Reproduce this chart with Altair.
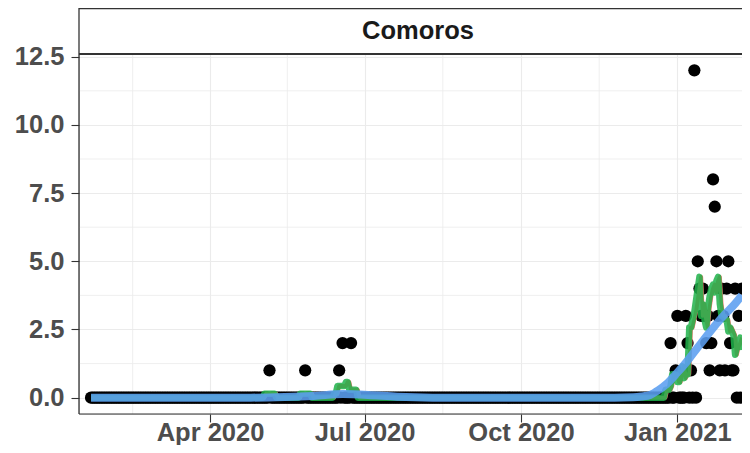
import altair as alt
import pandas as pd

# ---------------- data ----------------
strip_title = "Comoros"
first_day = "2020-01-22"
last_day = "2021-02-08"
# days with a non-zero count (every other day in the range is 0)
nonzero_dates = [
    "2020-05-06", "2020-05-27", "2020-06-16", "2020-06-18", "2020-06-23",
    "2020-12-28", "2020-12-31", "2021-01-01", "2021-01-06", "2021-01-07",
    "2021-01-09", "2021-01-11", "2021-01-13", "2021-01-14", "2021-01-15",
    "2021-01-16", "2021-01-17", "2021-01-18", "2021-01-19", "2021-01-20",
    "2021-01-21", "2021-01-22", "2021-01-23", "2021-01-24", "2021-01-25",
    "2021-01-26", "2021-01-27", "2021-01-28", "2021-01-29", "2021-01-30",
    "2021-01-31", "2021-02-01", "2021-02-02", "2021-02-03", "2021-02-04",
    "2021-02-06", "2021-02-08",
]
nonzero_deaths = [
    1, 1, 1, 2, 2,
    2, 1, 3, 3, 2,
    1, 12, 5, 4, 3,
    4, 3, 2, 3, 1,
    2, 8, 7, 5, 3,
    1, 4, 3, 1, 4,
    5, 2, 1, 1, 4,
    3, 4,
]
# smooth (blue) curve
smooth_dates = [
    "2020-01-22", "2020-04-25", "2020-05-15", "2020-06-01", "2020-06-18",
    "2020-07-03", "2020-07-20", "2020-08-10", "2020-11-25", "2020-12-06",
    "2020-12-11", "2020-12-16", "2020-12-21", "2020-12-26", "2020-12-31",
    "2021-01-05", "2021-01-10", "2021-01-15", "2021-01-20", "2021-01-25",
    "2021-01-30", "2021-02-04", "2021-02-08",
]
smooth_values = [
    0.0, 0.0, 0.02, 0.06, 0.13,
    0.1, 0.03, 0.0, 0.0, 0.01,
    0.04, 0.1, 0.28, 0.52, 0.85,
    1.2, 1.6, 2.0, 2.4, 2.78,
    3.12, 3.45, 3.76,
]
y_ticks = [0, 2.5, 5, 7.5, 10, 12.5]
y_minor = [1.25, 3.75, 6.25, 8.75, 11.25]
x_ticks = ["2020-04-01", "2020-07-01", "2020-10-01", "2021-01-01"]
x_minor = ["2020-02-15T12:00", "2020-05-16T12:00", "2020-08-16", "2020-11-16"]


def ms(s):
    return int(pd.Timestamp(s, tz="UTC").value // 10**6)


days = pd.date_range(first_day, last_day, freq="D")
series = pd.Series(0, index=days.strftime("%Y-%m-%d"))
for d, v in zip(nonzero_dates, nonzero_deaths):
    series[d] = v
df = pd.DataFrame({"date": [ms(d) for d in series.index], "deaths": series.values})
smooth_df = pd.DataFrame({"date": [ms(d) for d in smooth_dates], "fit": smooth_values})

# ---------------- layout / style ----------------
W, H = 663, 360
FONT = "Liberation Sans"
FS = 25.5

x_scale = alt.Scale(type="utc", domain=[ms("2020-01-14T22:00"), ms("2021-02-08T00:54")], nice=False)
y_scale = alt.Scale(domain=[-0.6, 12.6], nice=False, zero=False)

common_axis = dict(
    title=None, grid=True, gridColor="#ebebeb", gridWidth=1.1, domain=False,
    ticks=True, tickColor="#333333", tickWidth=1.1, tickSize=8,
    labelFont=FONT, labelFontSize=FS, labelFontWeight="bold", labelColor="#4d4d4d",
    labelFlush=False, labelOverlap=False,
)
x_axis = alt.Axis(values=[ms(s) for s in x_ticks], format="%b %Y",
                  labelBaseline="alphabetic", labelPadding=18, **common_axis)
y_axis = alt.Axis(values=y_ticks, format=".1f", labelPadding=7, **common_axis)

X = alt.X("date:T", scale=x_scale, axis=x_axis)


def Y(field):
    return alt.Y(f"{field}:Q", scale=y_scale, axis=y_axis)


base = alt.Chart(df)

minor_x = alt.Chart(pd.DataFrame({"date": [ms(s) for s in x_minor]})).mark_rule(
    color="#ebebeb", strokeWidth=0.8).encode(x=X)
minor_y = alt.Chart(pd.DataFrame({"deaths": y_minor})).mark_rule(
    color="#ebebeb", strokeWidth=0.8).encode(y=Y("deaths"))

points = base.mark_circle(size=150, color="black", opacity=1).encode(x=X, y=Y("deaths"))

red = base.transform_window(
    red="mean(deaths)", frame=[-4, 2], sort=[alt.SortField("date")]
).mark_line(color="#F8766D", strokeWidth=4, strokeJoin="round").encode(x=X, y=Y("red"))

green = base.transform_window(
    green="mean(deaths)", frame=[-3, 3], sort=[alt.SortField("date")]
).mark_line(color="#1fb24a", strokeWidth=6.5, opacity=0.85, strokeJoin="round").encode(x=X, y=Y("green"))

blue = alt.Chart(smooth_df).mark_line(
    color="#5b9ef0", strokeWidth=8, opacity=0.88, strokeJoin="round", interpolate="monotone"
).encode(x=X, y=Y("fit"))

one = pd.DataFrame({"k": [0]})
border = "#333333"
strip_top = alt.Chart(one).mark_rule(color=border, strokeWidth=1.2).encode(
    x=alt.value(0), x2=alt.value(W), y=alt.value(-45.4))
strip_bottom = alt.Chart(one).mark_rule(color=border, strokeWidth=2.2).encode(
    x=alt.value(0), x2=alt.value(W), y=alt.value(0))
left_border = alt.Chart(one).mark_rule(color=border, strokeWidth=1.3).encode(
    x=alt.value(0), y=alt.value(-46), y2=alt.value(H))
bottom_border = alt.Chart(one).mark_rule(color=border, strokeWidth=1.2).encode(
    x=alt.value(0), x2=alt.value(W), y=alt.value(H))
strip_text = alt.Chart(pd.DataFrame({"label": [strip_title]})).mark_text(
    font=FONT, fontSize=FS, fontWeight="bold", color="#1a1a1a",
    align="center", baseline="alphabetic",
).encode(x=alt.value(339), y=alt.value(-15), text="label:N")

chart = alt.layer(
    minor_x, minor_y, points, red, green, blue,
    strip_top, strip_bottom, left_border, bottom_border, strip_text,
).properties(
    width=W, height=H,
    padding={"left": 71, "top": 46, "right": 0, "bottom": 31},
    autosize=alt.AutoSizeParams(type="none"),
).configure_view(stroke=None).configure(background="white")

chart.save("out.html", embed_options={"renderer": "svg", "actions": False})
